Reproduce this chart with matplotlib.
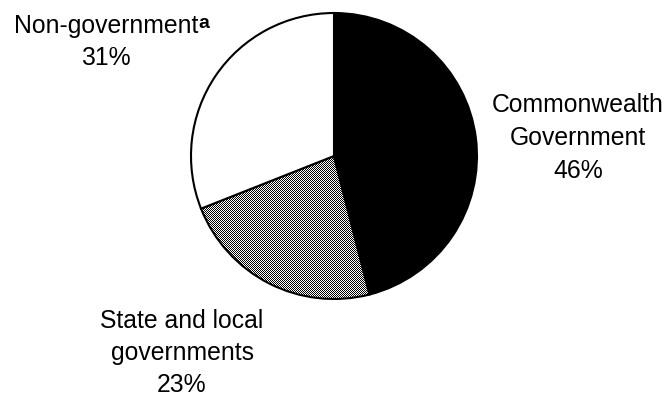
import numpy as np
import matplotlib
matplotlib.use("Agg")
import matplotlib.pyplot as plt

plt.rcParams['font.family'] = ['Liberation Sans', 'DejaVu Sans']

# Shares of funding by source (per cent)
sources = ["Commonwealth Government", "State and local governments", "Non-government"]
shares = [46, 23, 31]
label_lines = [["Commonwealth", "Government"],
               ["State and local", "governments"],
               ["Non-government"]]
footnote_mark = "a"

W, H = 668, 396
fig = plt.figure(figsize=(W / 100, H / 100), dpi=100)
fig.patch.set_facecolor("white")

# Pie axes: centre (334, 156) px, radius 143 px
cx, cy, r = 334, 156, 143
ax = fig.add_axes([(cx - r) / W, (H - cy - r) / H, 2 * r / W, 2 * r / H])

wedges, _ = ax.pie(shares, colors=["black", "white", "white"], startangle=90,
                   counterclock=False, radius=1,
                   wedgeprops=dict(edgecolor="black", linewidth=1.5))
wedges[1].set_facecolor("none")
ax.set_xlim(-1, 1)
ax.set_ylim(-1, 1)
ax.set_aspect("equal")
ax.axis("off")
ax.patch.set_visible(False)

# Pixel-level checkerboard fill for the state and local slice
yy, xx = np.mgrid[0:H, 0:W]
checker = ((xx + yy) % 2).astype(float)
img = fig.figimage(checker, 0, 0, cmap="gray", vmin=0, vmax=1, zorder=-1)
img.set_clip_path(wedges[1])

fs = 17.8


def put(x, y, s, **kw):
    fig.text(x / W, 1 - y / H, s, ha=kw.pop("ha", "center"), va="baseline",
             fontsize=kw.pop("fontsize", fs), color="black", **kw)


# Label positions (centre x, first baseline y, line step) in pixels
label_pos = [(578, 112, 33), (182, 328, 32), (106, 33, 32)]
for lines, share, (x, y0, step) in zip(label_lines, shares, label_pos):
    for i, line in enumerate(lines + [f"{share}%"]):
        put(x, y0 + i * step, line)

# Footnote marker sits right after the "Non-government" label
put(198, 28, footnote_mark, ha="left", fontsize=14, fontweight="bold")

fig.savefig("out.png", dpi=100, facecolor="white")
